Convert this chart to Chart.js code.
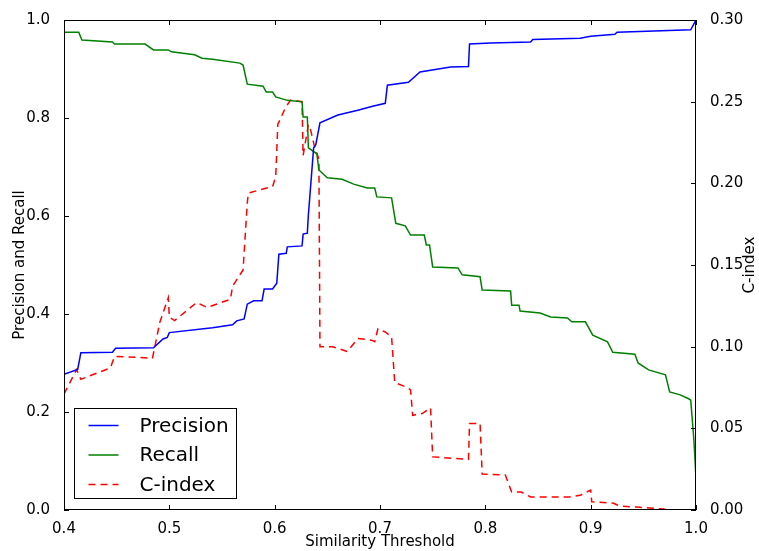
<!DOCTYPE html>
<html>
<head>
<meta charset="utf-8">
<script src="https://cdn.jsdelivr.net/npm/chart.js@4.4.1/dist/chart.umd.min.js"></script>
<style>
  html, body { margin: 0; padding: 0; background: #fff; }
  #wrap { width: 759px; height: 551px; }
</style>
</head>
<body>
<div id="wrap"><canvas id="chart" width="759" height="551"></canvas></div>
<script>
// similarity threshold / value pairs
const precisionX = [0.400, 0.413, 0.416, 0.446, 0.449, 0.485, 0.494, 0.498, 0.500, 0.541, 0.560, 0.564, 0.571, 0.574, 0.580, 0.588, 0.590, 0.598, 0.602, 0.604, 0.611, 0.612, 0.626, 0.627, 0.631, 0.632, 0.634, 0.637, 0.639, 0.643, 0.660, 0.679, 0.693, 0.705, 0.707, 0.727, 0.738, 0.767, 0.784, 0.785, 0.805, 0.843, 0.845, 0.890, 0.900, 0.923, 0.925, 0.995, 1.000];
const precisionY = [0.277, 0.287, 0.321, 0.322, 0.330, 0.331, 0.349, 0.352, 0.362, 0.372, 0.378, 0.386, 0.390, 0.420, 0.427, 0.427, 0.451, 0.451, 0.463, 0.522, 0.524, 0.537, 0.539, 0.563, 0.565, 0.602, 0.657, 0.739, 0.745, 0.790, 0.806, 0.816, 0.824, 0.830, 0.867, 0.873, 0.894, 0.904, 0.905, 0.951, 0.953, 0.955, 0.960, 0.963, 0.967, 0.971, 0.975, 0.980, 1.000];

const recallX = [0.400, 0.414, 0.417, 0.446, 0.448, 0.477, 0.485, 0.499, 0.502, 0.524, 0.531, 0.541, 0.567, 0.570, 0.574, 0.589, 0.592, 0.598, 0.601, 0.612, 0.626, 0.627, 0.631, 0.632, 0.640, 0.642, 0.650, 0.664, 0.675, 0.688, 0.695, 0.697, 0.711, 0.715, 0.724, 0.729, 0.742, 0.744, 0.747, 0.750, 0.774, 0.778, 0.795, 0.797, 0.824, 0.825, 0.832, 0.833, 0.852, 0.862, 0.878, 0.882, 0.895, 0.902, 0.916, 0.921, 0.942, 0.945, 0.955, 0.971, 0.975, 0.985, 0.993, 0.995, 0.998, 1.000];
const recallY = [0.975, 0.975, 0.959, 0.955, 0.951, 0.951, 0.939, 0.939, 0.935, 0.929, 0.922, 0.920, 0.912, 0.908, 0.869, 0.865, 0.853, 0.853, 0.843, 0.836, 0.833, 0.802, 0.802, 0.739, 0.727, 0.694, 0.678, 0.675, 0.665, 0.657, 0.657, 0.639, 0.637, 0.585, 0.580, 0.561, 0.561, 0.541, 0.541, 0.496, 0.494, 0.480, 0.476, 0.449, 0.447, 0.418, 0.418, 0.406, 0.402, 0.394, 0.392, 0.384, 0.384, 0.357, 0.343, 0.322, 0.318, 0.300, 0.286, 0.276, 0.241, 0.235, 0.227, 0.224, 0.143, 0.065];

const cindexX = [0.400, 0.412, 0.416, 0.444, 0.448, 0.484, 0.491, 0.499, 0.500, 0.505, 0.526, 0.536, 0.558, 0.560, 0.570, 0.574, 0.575, 0.586, 0.598, 0.601, 0.603, 0.610, 0.615, 0.626, 0.627, 0.632, 0.634, 0.638, 0.642, 0.643, 0.655, 0.669, 0.679, 0.692, 0.695, 0.698, 0.705, 0.711, 0.714, 0.726, 0.729, 0.731, 0.740, 0.748, 0.750, 0.784, 0.785, 0.795, 0.797, 0.819, 0.825, 0.834, 0.843, 0.880, 0.890, 0.900, 0.901, 0.921, 0.928, 0.944, 0.956, 0.969, 0.975, 1.000];
const cindexY = [0.071, 0.086, 0.080, 0.087, 0.094, 0.093, 0.115, 0.130, 0.118, 0.116, 0.127, 0.124, 0.129, 0.137, 0.147, 0.188, 0.194, 0.196, 0.198, 0.204, 0.236, 0.246, 0.251, 0.250, 0.217, 0.236, 0.233, 0.222, 0.215, 0.100, 0.100, 0.097, 0.105, 0.104, 0.103, 0.111, 0.109, 0.106, 0.078, 0.075, 0.0735, 0.058, 0.059, 0.0625, 0.0325, 0.031, 0.053, 0.053, 0.022, 0.0214, 0.011, 0.011, 0.008, 0.008, 0.009, 0.0122, 0.005, 0.0043, 0.0024, 0.0018, 0.0012, 0.0006, 0, 0];

const xTicks = [0.4, 0.5, 0.6, 0.7, 0.8, 0.9, 1.0];
const leftTicks = [0.0, 0.2, 0.4, 0.6, 0.8, 1.0];
const rightTicks = [0.00, 0.05, 0.10, 0.15, 0.20, 0.25, 0.30];

const toPoints = (xs, ys) => xs.map((x, i) => ({ x: x, y: ys[i] }));
const FONT = 'DejaVu Sans';

// matplotlib-like frame with inward ticks, plus the right axis title
const framePlugin = {
    id: 'frame',
    afterDatasetsDraw(chart) {
        const { ctx, chartArea: a, scales } = chart;
        const len = 5;
        ctx.save();
        ctx.strokeStyle = '#000';
        ctx.lineWidth = 1;
        ctx.strokeRect(a.left + 0.5, a.top + 0.5, a.right - a.left - 1, a.bottom - a.top - 1);
        ctx.beginPath();
        scales.x.ticks.forEach(t => {
            const px = Math.round(scales.x.getPixelForValue(t.value)) + 0.5;
            ctx.moveTo(px, a.bottom); ctx.lineTo(px, a.bottom - len);
            ctx.moveTo(px, a.top); ctx.lineTo(px, a.top + len);
        });
        scales.y.ticks.forEach(t => {
            const py = Math.round(scales.y.getPixelForValue(t.value)) + 0.5;
            ctx.moveTo(a.left, py); ctx.lineTo(a.left + len, py);
        });
        scales.y1.ticks.forEach(t => {
            const py = Math.round(scales.y1.getPixelForValue(t.value)) + 0.5;
            ctx.moveTo(a.right, py); ctx.lineTo(a.right - len, py);
        });
        ctx.stroke();

        // right title reads bottom-to-top like the left one
        ctx.translate(chart.width - 9, (a.top + a.bottom) / 2);
        ctx.rotate(-Math.PI / 2);
        ctx.font = '15px "' + FONT + '"';
        ctx.fillStyle = '#000';
        ctx.textAlign = 'center';
        ctx.textBaseline = 'middle';
        ctx.fillText('C-index', 0, 0);
        ctx.restore();
    }
};

// legend box in the lower left corner of the plot
const legendPlugin = {
    id: 'boxLegend',
    afterDraw(chart) {
        const { ctx, chartArea: a } = chart;
        const box = { x: a.left + 10.5, y: a.bottom - 101.5, w: 162, h: 90 };
        ctx.save();
        ctx.fillStyle = '#fff';
        ctx.fillRect(box.x, box.y, box.w, box.h);
        ctx.strokeStyle = '#000';
        ctx.lineWidth = 1;
        ctx.strokeRect(box.x, box.y, box.w, box.h);
        ctx.font = '20px "' + FONT + '"';
        ctx.textBaseline = 'middle';
        chart.data.datasets.forEach((ds, i) => {
            const y = box.y + 17 + i * 29.5;
            ctx.beginPath();
            ctx.strokeStyle = ds.borderColor;
            ctx.lineWidth = ds.borderWidth;
            ctx.setLineDash(ds.borderDash || []);
            ctx.moveTo(box.x + 14, y);
            ctx.lineTo(box.x + 44, y);
            ctx.stroke();
            ctx.setLineDash([]);
            ctx.fillStyle = '#000';
            ctx.fillText(ds.label, box.x + 65, y + 1);
        });
        ctx.restore();
    }
};

new Chart(document.getElementById('chart'), {
    type: 'line',
    data: {
        datasets: [
            { label: 'Precision', data: toPoints(precisionX, precisionY), borderColor: '#0000ff', borderWidth: 1.5, yAxisID: 'y' },
            { label: 'Recall', data: toPoints(recallX, recallY), borderColor: '#008000', borderWidth: 1.5, yAxisID: 'y' },
            { label: 'C-index', data: toPoints(cindexX, cindexY), borderColor: '#ff0000', borderWidth: 1.5, borderDash: [7, 5], yAxisID: 'y1' }
        ]
    },
    options: {
        responsive: false,
        animation: false,
        layout: { padding: { top: 20, left: 0, right: 0, bottom: 0 } },
        elements: { point: { radius: 0 }, line: { tension: 0 } },
        plugins: { legend: { display: false }, tooltip: { enabled: false } },
        scales: {
            x: {
                type: 'linear', min: 0.4, max: 1.0,
                afterBuildTicks: s => { s.ticks = xTicks.map(v => ({ value: v })); },
                afterFit: s => { s.height = 41; },
                grid: { display: false },
                border: { display: false },
                ticks: { color: '#000', padding: 2, font: { family: FONT, size: 15 }, callback: v => v.toFixed(1), maxRotation: 0 },
                title: { display: true, text: 'Similarity Threshold', color: '#000', font: { family: FONT, size: 15 }, padding: { top: 0, bottom: 0 } }
            },
            y: {
                type: 'linear', position: 'left', min: 0, max: 1,
                afterBuildTicks: s => { s.ticks = leftTicks.map(v => ({ value: v })); },
                afterFit: s => { s.width = 64; },
                grid: { display: false },
                border: { display: false },
                ticks: { color: '#000', padding: 6, font: { family: FONT, size: 15 }, callback: v => v.toFixed(1) },
                title: { display: true, text: 'Precision and Recall', color: '#000', font: { family: FONT, size: 15 }, padding: { top: 11, bottom: 0 } }
            },
            y1: {
                type: 'linear', position: 'right', min: 0, max: 0.3,
                afterBuildTicks: s => { s.ticks = rightTicks.map(v => ({ value: v })); },
                afterFit: s => { s.width = 63; },
                grid: { display: false },
                border: { display: false },
                ticks: { color: '#000', padding: 6, font: { family: FONT, size: 15 }, callback: v => v.toFixed(2) }
            }
        }
    },
    plugins: [framePlugin, legendPlugin]
});
</script>
</body>
</html>
